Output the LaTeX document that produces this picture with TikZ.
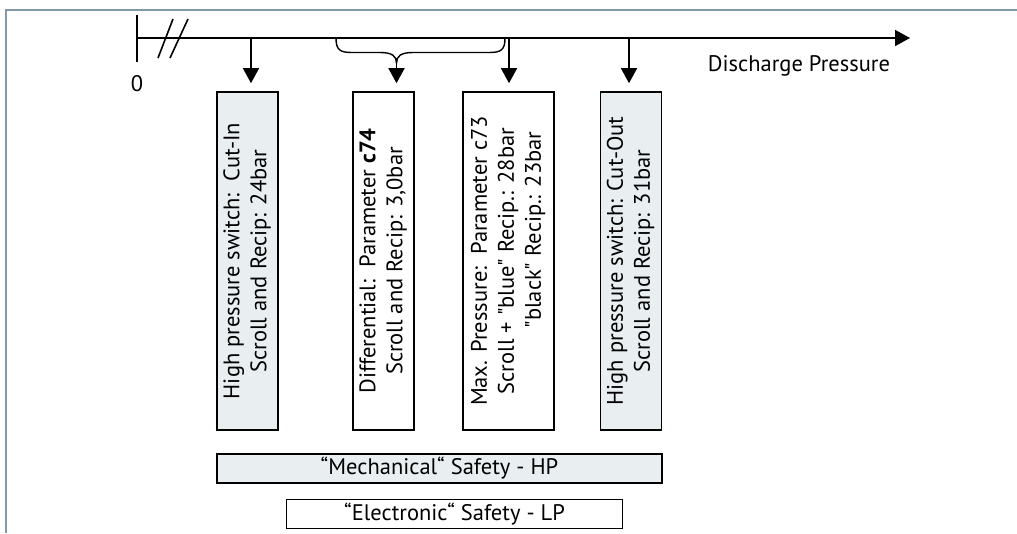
\documentclass[tikz,border=0pt]{standalone}
\usepackage{fontspec}
\setmainfont{PT Sans}[Ligatures=TeXOff]
\usetikzlibrary{arrows.meta}
\definecolor{boxfill}{HTML}{E9EEF1}
\definecolor{framecol}{HTML}{8198A9}
\begin{document}
\begin{tikzpicture}[x=1pt,y=-1pt,
  every node/.style={inner sep=0pt, font=\fontsize{22.5}{27}\selectfont},
  arr/.style={-{Triangle[width=16pt,length=15pt]}, line width=1.6pt},
  axisline/.style={line width=1.8pt},
  vbox/.style={draw, line width=1.6pt, minimum width=61pt, minimum height=338pt},
  hbox/.style={draw, line width=1.6pt, minimum height=29pt},
  gray/.style={fill=boxfill}]
\useasboundingbox (0,0) rectangle (1017,533);
% frame
\draw[framecol, line width=1.5pt] (6,533) -- (6,10) -- (1017,10);
% axis
\coordinate (o) at (137,38);
\coordinate (aend) at (910,38);
\coordinate (tk1) at (137,15);
\coordinate (tk2) at (137,62);
\coordinate (s1a) at (158,58);
\coordinate (s1b) at (173,19);
\coordinate (s2a) at (170,58);
\coordinate (s2b) at (188,19);
\draw[arr, line width=1.8pt] (o) -- (aend);
\draw[axisline] (tk1) -- (tk2);
\draw[line width=1.6pt] (s1a) -- (s1b);
\draw[line width=1.6pt] (s2a) -- (s2b);
\node (zero) at (137,84) {0};
\node (dp) at (799,66) {Discharge Pressure};
% boxes
\node[vbox, gray] (b1) at (247.5,261) {\rotatebox{90}{\begin{tabular}{@{}c@{}}High pressure switch:\ \ Cut-In\\Scroll and Recip: 24bar\end{tabular}}};
\node[vbox] (b2) at (383.5,261) {\rotatebox{90}{\begin{tabular}{@{}c@{}}Differential:\ \ Parameter \textbf{c74}\\Scroll and Recip: 3,0bar\end{tabular}}};
\node[vbox, minimum width=91pt] (b3) at (508.5,261) {\rotatebox{90}{\begin{tabular}{@{}c@{}}Max. Pressure:\ \ Parameter c73\\Scroll + "blue" Recip.: 28bar\\\hspace*{62pt}"black" Recip.: 23bar\end{tabular}}};
\node[vbox, gray] (b4) at (631,261) {\rotatebox{90}{\begin{tabular}{@{}c@{}}High pressure switch: Cut-Out\\Scroll and Recip: 31bar\end{tabular}}};
\node[hbox, gray, minimum width=445pt] (mech) at (439.5,468.5) {“Mechanical“ Safety - HP};
\node[hbox, minimum width=336pt] (elec) at (454.5,514) {“Electronic“ Safety - LP};
% arrows from axis
\coordinate (p1) at (251,38);
\coordinate (p3) at (509,38);
\coordinate (p4) at (629,38);
\draw[arr, shorten >=8pt] (p1) -- (p1 |- b1.north);
\draw[arr, shorten >=8pt] (p3) -- (p3 |- b3.north);
\draw[arr, shorten >=8pt] (p4) -- (p4 |- b4.north);
% brace
\coordinate (brL) at (336,38);
\coordinate (brR) at (505,38);
\coordinate (brT) at (396.5,63);
\draw[line width=1.4pt] (brL) .. controls (336,50) and (340,52.5) .. (352,52.5) -- (380,52.5) .. controls (392,52.5) and (396.5,56) .. (brT)
  .. controls (396.5,56) and (401,52.5) .. (413,52.5) -- (489,52.5) .. controls (501,52.5) and (505,50) .. (brR);
\draw[arr, shorten >=8pt] (brT) -- (brT |- b2.north);
\end{tikzpicture}
\end{document}
